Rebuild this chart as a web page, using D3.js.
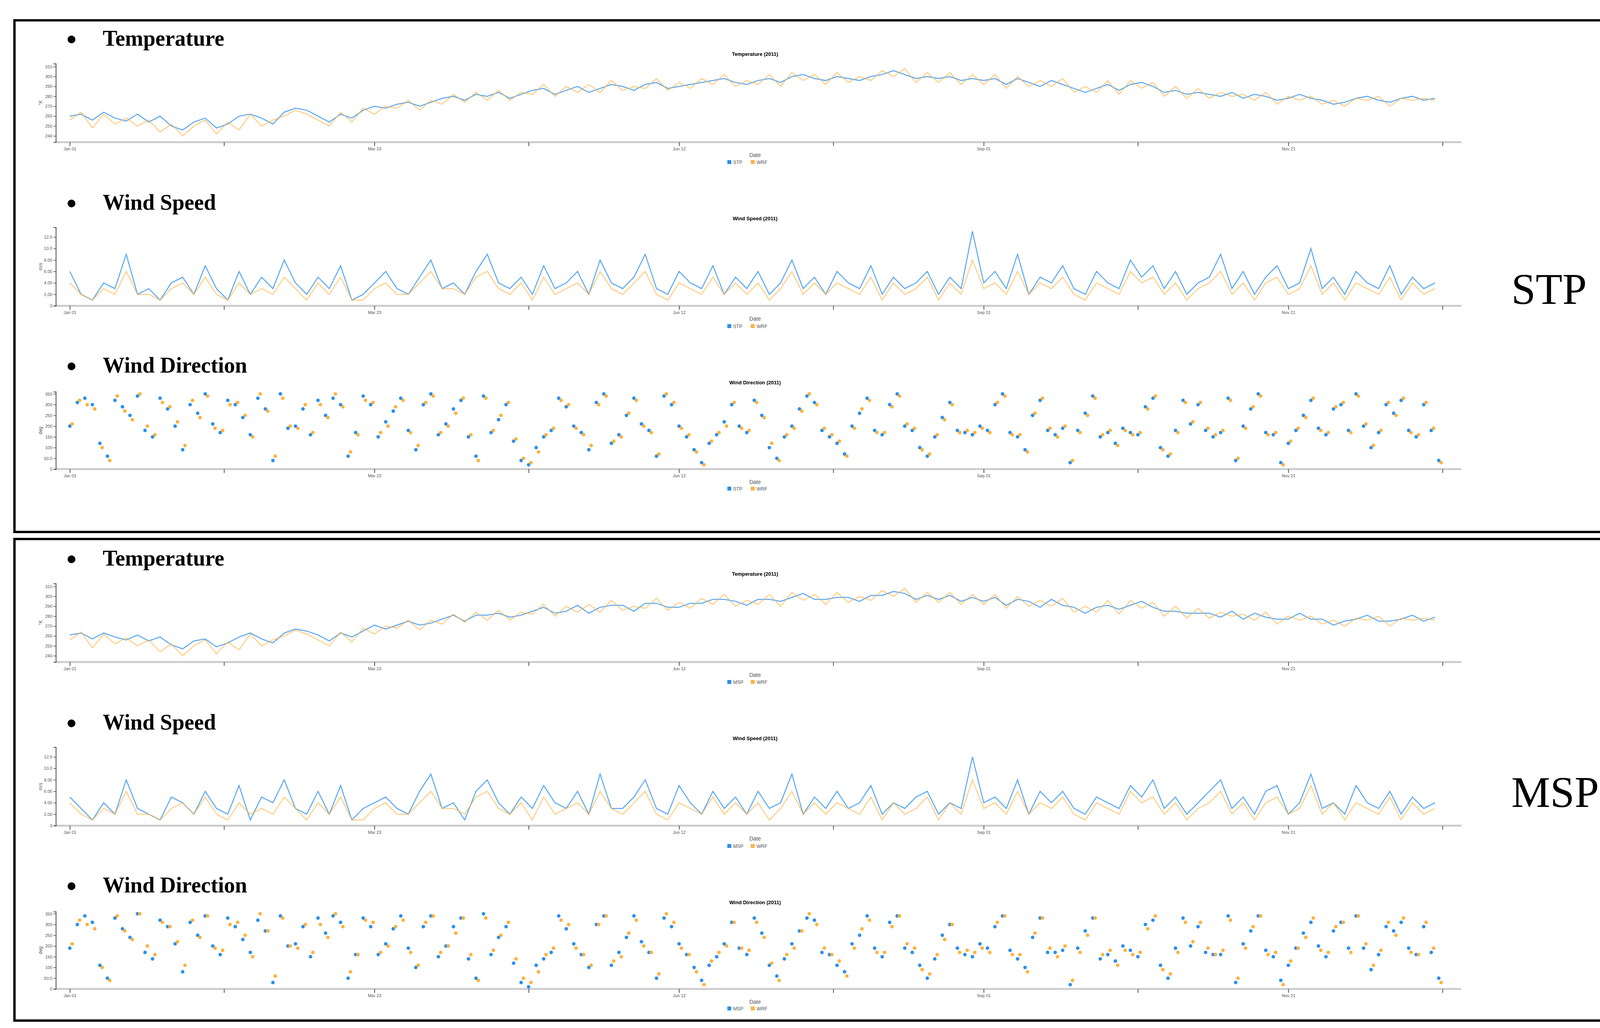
<!DOCTYPE html>
<html><head><meta charset="utf-8">
<script src="https://cdn.jsdelivr.net/npm/d3@7"></script>
<style>html,body{margin:0;padding:0;background:#fff;overflow:hidden}svg{display:block}</style></head>
<body><svg id="c" width="4229" height="2632"></svg>
<script>
const tickDates=["2011-01-01","2011-02-11","2011-03-23","2011-05-03","2011-06-12","2011-07-23","2011-09-01","2011-10-12","2011-11-21","2012-01-01"];
const tickLabels=["Jan 01","","Mar 23","","Jun 12","","Sep 01","","Nov 21",""];
const stations=["STP","MSP"];
const panelNames=["Temperature","Wind Speed","Wind Direction"];
const chartTitles=["Temperature (2011)","Wind Speed (2011)","Wind Direction (2011)"];
const yUnits=["°K","m/s","deg"];
const tempTicks=[240,250,260,270,280,290,300,310];
const wsTicks=[0,2,4,6,8,10,12];
const dirTicks=[0,50,100,150,200,250,300,350];

const stpTemp=[260,262,256,264,258,255,262,254,260,250,246,254,258,248,252,260,262,258,252,264,268,266,260,254,262,258,266,270,268,272,274,270,274,278,280,276,282,280,284,278,282,286,288,282,286,290,284,288,292,290,286,292,294,288,290,292,294,296,298,294,292,296,298,294,300,302,298,296,300,298,296,300,302,306,302,298,300,298,300,296,298,296,298,292,298,294,290,296,292,288,284,288,292,286,292,294,290,284,286,282,284,282,280,284,278,282,280,276,278,282,278,276,272,274,278,280,276,274,278,280,276,278];
const wrfTemp=[256,264,248,262,252,258,250,256,244,252,240,250,256,242,254,246,262,250,256,260,266,262,256,250,264,254,268,262,270,268,276,266,276,272,282,274,284,276,286,276,284,282,292,280,290,284,292,284,296,286,290,288,298,286,294,288,298,292,302,290,296,292,302,290,304,296,302,292,304,294,300,296,306,300,308,294,304,294,304,292,302,292,302,288,300,290,296,290,298,284,290,284,296,282,296,288,294,280,290,278,288,278,284,280,282,276,284,272,280,276,280,272,276,270,278,276,280,270,278,276,278,276];
const mspTemp=[261,263,257,263,259,256,261,255,259,251,247,255,257,249,253,259,263,257,253,263,267,265,261,255,263,259,265,271,267,271,275,271,273,277,281,275,281,281,283,279,281,285,289,283,285,291,283,289,291,291,285,293,293,289,289,293,293,297,297,295,291,297,297,295,299,303,297,297,299,299,295,301,301,305,303,297,301,297,301,295,299,295,299,291,297,295,289,297,291,289,283,289,291,287,291,295,289,285,285,283,283,283,279,285,277,283,279,277,277,283,277,277,271,275,277,281,275,275,277,281,275,279];

const stpWs=[6,2,1,4,3,9,2,3,1,4,5,2,7,3,1,6,2,5,3,8,4,2,5,3,7,1,2,4,6,3,2,5,8,3,4,2,6,9,4,3,5,2,7,3,4,6,2,8,4,3,5,9,3,2,6,4,3,7,2,5,3,6,2,4,8,3,5,2,6,4,3,7,2,5,3,4,6,2,5,3,13,4,6,3,9,2,5,4,7,3,2,6,4,3,8,5,7,3,6,2,4,5,9,3,6,2,5,7,3,4,10,3,5,2,6,4,3,7,2,5,3,4];
const wrfWs=[4,2,1,3,2,6,2,2,1,3,4,2,5,2,1,4,2,3,2,5,3,1,4,2,5,1,1,3,4,2,2,4,6,3,3,2,5,6,3,2,4,1,5,2,3,4,2,6,3,2,4,6,2,1,4,3,2,5,2,4,2,4,1,3,6,2,4,2,4,3,2,5,1,4,2,3,5,1,4,2,8,3,4,2,6,2,4,3,5,2,1,4,3,2,6,4,5,2,4,1,3,4,6,2,4,1,4,5,2,3,7,2,4,1,4,3,2,5,1,4,2,3];
const mspWs=[5,3,1,4,2,8,3,2,1,5,4,2,6,3,2,7,1,5,4,8,3,2,6,2,7,1,3,4,5,3,2,6,9,3,4,1,6,8,4,2,5,3,7,4,3,6,2,9,3,3,5,8,3,2,7,4,2,6,3,5,2,6,3,4,9,2,5,3,6,3,4,7,2,4,3,5,6,2,4,3,12,4,5,3,8,2,6,4,6,3,2,5,4,3,7,5,8,3,5,2,4,6,8,3,5,2,6,7,2,4,9,3,4,2,7,4,3,6,2,5,3,4];

const stpDir=[200,310,330,300,120,60,320,290,250,340,180,150,330,280,200,90,300,260,350,210,170,320,300,240,160,330,280,40,350,190,200,280,160,320,250,330,300,60,170,340,300,150,220,270,330,180,90,300,350,160,210,280,320,150,60,340,170,230,300,130,40,20,100,150,180,330,290,200,170,90,310,350,120,160,250,330,210,180,60,340,300,200,150,90,30,120,160,220,300,200,170,320,250,100,50,150,200,280,340,310,180,150,120,70,200,260,330,180,160,300,350,200,180,100,60,150,240,310,180,170,160,200,180,300,350,170,150,90,250,320,180,160,190,30,180,260,340,150,170,120,190,170,160,290,330,100,60,180,320,210,300,180,150,170,330,40,200,280,350,170,160,30,120,180,250,320,190,160,280,300,180,350,200,100,170,300,260,320,180,150,300,180,40];
const wrfDir=[210,320,300,280,100,40,340,270,230,350,200,160,310,290,220,110,320,240,340,190,180,300,310,250,150,350,270,60,330,200,190,300,170,300,240,350,290,80,160,320,310,170,200,290,320,170,110,310,340,170,200,260,330,160,40,330,180,250,310,140,50,30,80,160,190,320,300,190,160,110,300,340,130,150,260,320,200,170,70,350,310,190,160,80,20,130,170,200,310,190,180,310,240,120,40,160,190,270,350,300,190,160,130,60,190,280,320,170,170,290,340,210,190,90,70,160,230,300,170,180,170,190,170,310,340,160,160,80,260,330,190,150,200,40,170,250,330,160,180,110,180,160,170,280,340,90,70,170,310,220,310,190,160,180,320,50,190,290,340,160,170,20,130,190,240,330,180,170,290,310,170,340,210,110,180,310,250,330,170,160,310,190,30];
const mspDir=[190,300,340,310,110,50,330,280,240,350,170,140,320,290,210,80,310,250,340,200,160,330,290,230,170,320,270,30,340,200,210,290,150,330,260,340,310,50,160,330,290,160,210,280,340,190,100,290,340,150,200,290,330,140,50,350,160,240,290,120,30,10,110,140,170,340,280,210,160,100,300,340,110,170,240,340,220,170,50,330,290,210,160,100,40,110,150,210,310,190,160,330,260,110,60,140,210,270,330,320,170,160,110,80,210,250,340,190,150,310,340,190,170,110,50,140,250,300,190,160,150,210,190,290,340,180,140,100,240,330,170,170,180,20,190,270,330,140,160,130,200,180,150,300,320,110,50,190,330,200,290,170,160,160,340,30,210,270,340,180,150,40,110,190,260,310,200,150,270,310,190,340,190,90,160,290,270,310,190,160,290,170,50];

const BLUE="#2b8ff0", ORANGE="#ffb13d";
const svg=d3.select("#c");
const dayDate=(d)=>new Date(2011,0,1+d);
const x=d3.scaleTime().domain([new Date(2010,11,28,7),new Date(2012,0,6)]).range([143,3741]);

function box(y0,y1){svg.append("rect").attr("x",37).attr("y",y0).attr("width",4163).attr("height",y1-y0).attr("fill","none").attr("stroke","#000").attr("stroke-width",6);}
box(52,1362);box(1380,2613);

function heading(txt,yb){
  svg.append("circle").attr("cx",183).attr("cy",yb-16).attr("r",10).attr("fill","#000");
  svg.append("text").attr("x",263).attr("y",yb).attr("font-family","Liberation Serif, DejaVu Serif, serif").attr("font-size",56).attr("font-weight","bold").text(txt);
}

function panel(k,off,obsName,obs,wrf,kind,domain,ticks,step){
  const base=[[117,143,163,364,402,420],[537,564,582,783,821,840],[954,984,1003,1201,1239,1256]][k].map(v=>v+off);
  heading(panelNames[k],base[0]);
  svg.append("text").attr("x",1933).attr("y",base[1]).attr("text-anchor","middle").attr("font-family","Arial, Liberation Sans, sans-serif").attr("font-size",13).attr("font-weight","bold").text(chartTitles[k]);
  const y=d3.scaleLinear().domain(domain).range([base[3],base[2]]);
  const g=svg.append("g");
  g.append("line").attr("x1",143).attr("x2",3741).attr("y1",base[3]).attr("y2",base[3]).attr("stroke","#ccc").attr("stroke-width",5);
  const xa=g.append("g").attr("transform",`translate(0,${base[3]})`).call(d3.axisBottom(x).tickValues(tickDates.map(s=>new Date(s+"T00:00"))).tickFormat((d,i)=>tickLabels[i]).tickSize(10).tickSizeOuter(0));
  xa.select(".domain").remove();
  xa.selectAll("text").attr("font-size",11).attr("fill","#555").attr("font-family","Arial, sans-serif");
  xa.selectAll("line").attr("stroke","#555").attr("stroke-width",2);
  const ya=g.append("g").attr("transform","translate(143,0)").call(d3.axisLeft(y).tickValues(ticks).tickFormat(v=>k===0?v:(v===0?"0":(v>=10&&k===1?v.toFixed(1):(k===1?v.toFixed(2):(v<100?v.toFixed(1):v))))).tickSize(6).tickSizeOuter(6));
  ya.select(".domain").attr("stroke","#444").attr("stroke-width",2);
  ya.selectAll("text").attr("font-size",11).attr("fill","#555").attr("font-family","Arial, sans-serif");
  g.append("text").attr("transform",`translate(108,${(base[2]+base[3])/2}) rotate(-90)`).attr("text-anchor","middle").attr("font-size",12).attr("fill","#555").attr("font-family","Arial, sans-serif").text(yUnits[k]);
  g.append("text").attr("x",1933).attr("y",base[4]).attr("text-anchor","middle").attr("font-size",14).attr("fill","#555").attr("font-family","Arial, sans-serif").text("Date");
  [[obsName,BLUE,1862],["WRF",ORANGE,1922]].forEach(([n,c,lx])=>{
    g.append("rect").attr("x",lx).attr("y",base[5]-10).attr("width",10).attr("height",10).attr("fill",c);
    g.append("text").attr("x",lx+15).attr("y",base[5]).attr("font-size",12).attr("fill","#555").attr("font-family","Arial, sans-serif").text(n);
  });
  const data=(arr)=>arr.map((v,i)=>({d:dayDate(i*step),v}));
  if(kind==="line"){
    const line=d3.line().x(p=>x(p.d)).y(p=>y(p.v));
    g.append("path").datum(data(obs)).attr("d",line).attr("fill","none").attr("stroke",BLUE).attr("stroke-width",2.5).attr("stroke-opacity",0.8);
    g.append("path").datum(data(wrf)).attr("d",line).attr("fill","none").attr("stroke",ORANGE).attr("stroke-width",2.5).attr("stroke-opacity",0.65);
  } else {
    g.selectAll(null).data(data(obs)).enter().append("circle").attr("cx",p=>x(p.d)).attr("cy",p=>y(p.v)).attr("r",4.5).attr("fill",BLUE);
    g.selectAll(null).data(data(wrf)).enter().append("circle").attr("cx",p=>x(p.d)+6).attr("cy",p=>y(p.v)).attr("r",4.5).attr("fill",ORANGE);
  }
}
const sets=[[stpTemp,stpWs,stpDir],[mspTemp,mspWs,mspDir]];
stations.forEach((s,si)=>{
  const off=si*1331;
  panel(0,off,s,sets[si][0],wrfTemp,"line",[233.7,313],tempTicks,3);
  panel(1,off,s,sets[si][1],wrfWs,"line",[0,13.7],wsTicks,3);
  panel(2,off,s,sets[si][2],wrfDir,"dot",[0,360],dirTicks,2);
  svg.append("text").attr("x",3869).attr("y",si?2066:778).attr("font-family","Liberation Serif, DejaVu Serif, serif").attr("font-size",112).text(s);
});
</script></body></html>
